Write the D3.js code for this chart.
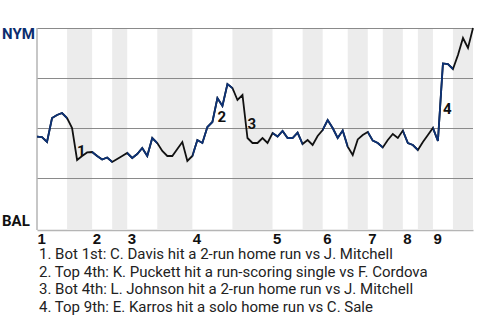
<!DOCTYPE html>
<head>
    <meta charset="utf-8">
    <script src="https://d3js.org/d3.v7.min.js"></script>
    <style type="text/css">
        body { margin: 0; background: #fff; }
        svg { display: block; font-family: Roboto, "DejaVu Sans", sans-serif; }
        .grid line { stroke: #8a8a8a; stroke-width: 1px; }
        .grid .domain { display: none; }
        .xaxis .domain { stroke: #b5b5b5; stroke-width: 1.5px; }
        .xaxis text { font-size: 15px; font-weight: bold; fill: #111; }
        .team { font-size: 15px; font-weight: bold; }
        .evt { font-size: 15px; font-weight: bold; fill: #111; }
        .note { font-size: 15px; fill: #222; }
    </style>
</head>
<body>
    <div id="chart"></div>
</body>
</html>

<script type="text/javascript">
    // plays are evenly spaced; each half-inning starts at one of these play indices
    var halfStarts = [0, 6, 11, 15, 18, 24, 31, 39, 47, 53, 57, 62, 66, 69, 73, 76, 79, 83];
    var lastPlay = 87;
    var innings = ["1", "2", "3", "4", "5", "6", "7", "8", "9"];
    var teams = ["NYM", "BAL"];
    var gridVals = [0.25, 0.5, 0.75, 1];

    // NYM win probability after each play
    var winProb = [
        0.457, 0.455, 0.43, 0.55, 0.565, 0.575, 0.55, 0.5, 0.34, 0.36,
        0.378, 0.38, 0.36, 0.3425, 0.3525, 0.33, 0.345, 0.36, 0.375, 0.35,
        0.37, 0.40, 0.36, 0.45, 0.425, 0.385, 0.36, 0.36, 0.395, 0.43,
        0.335, 0.36, 0.44, 0.425, 0.505, 0.53, 0.65, 0.61, 0.72, 0.70,
        0.64, 0.665, 0.45, 0.425, 0.425, 0.45, 0.425, 0.475, 0.457, 0.485,
        0.45, 0.45, 0.477, 0.42, 0.44, 0.415, 0.46, 0.49, 0.54, 0.50,
        0.45, 0.487, 0.407, 0.365, 0.443, 0.465, 0.48, 0.437, 0.425, 0.403,
        0.44, 0.47, 0.45, 0.487, 0.425, 0.415, 0.39, 0.43, 0.465, 0.50,
        0.435, 0.823, 0.82, 0.795, 0.865, 0.95, 0.90, 1.0
    ];

    var eventPlays = [8, 36, 42, 81];
    var eventNotes = [
        "1. Bot 1st: C. Davis hit a 2-run home run vs J. Mitchell",
        "2. Top 4th: K. Puckett hit a run-scoring single vs F. Cordova",
        "3. Bot 4th: L. Johnson hit a 2-run home run vs J. Mitchell",
        "4. Top 9th: E. Karros hit a solo home run vs C. Sale"
    ];

    var width = 480, height = 320;
    var plotLeft = 37, plotRight = 473, plotTop = 28, plotBottom = 228;

    var x = d3.scaleLinear().domain([0, lastPlay]).range([plotLeft, plotRight]);
    var y = d3.scaleLinear().domain([0, 1]).range([plotBottom, plotTop]);

    var svg = d3.select("#chart").append("svg")
        .attr("width", width)
        .attr("height", height);

    // half-inning bands
    var halves = halfStarts.map(function(s, i) {
        return { start: s, end: i < halfStarts.length - 1 ? halfStarts[i + 1] : lastPlay, top: i % 2 === 0 };
    });

    svg.append("g").selectAll("rect")
        .data(halves.filter(function(h) { return !h.top; }))
        .enter().append("rect")
        .attr("x", function(h) { return x(h.start); })
        .attr("width", function(h) { return x(h.end) - x(h.start); })
        .attr("y", plotTop)
        .attr("height", plotBottom + 1 - plotTop)
        .attr("fill", "#ececec");

    // clip for the visitors' half-innings (line drawn in blue there)
    svg.append("clipPath").attr("id", "topHalves")
        .selectAll("rect")
        .data(halves.filter(function(h) { return h.top; }))
        .enter().append("rect")
        .attr("x", function(h) { return x(h.start); })
        .attr("width", function(h) { return x(h.end) - x(h.start); })
        .attr("y", 0)
        .attr("height", height);

    // gridlines
    svg.append("g")
        .attr("class", "grid")
        .attr("transform", "translate(" + plotLeft + ",0)")
        .call(d3.axisLeft(y).tickValues(gridVals).tickSize(-(plotRight - plotLeft)).tickFormat(""));

    // left axis line
    svg.append("line")
        .attr("x1", plotLeft).attr("x2", plotLeft)
        .attr("y1", plotTop).attr("y2", plotBottom + 2)
        .attr("stroke", "#b5b5b5")
        .attr("stroke-width", 1.5);

    // bottom axis with inning numbers
    var inningStarts = halfStarts.filter(function(d, i) { return i % 2 === 0; });
    var xAxis = svg.append("g")
        .attr("class", "xaxis")
        .attr("transform", "translate(0," + (plotBottom + 2) + ")")
        .call(d3.axisBottom(x).tickValues(inningStarts)
            .tickFormat(function(d, i) { return innings[i]; })
            .tickSize(0).tickPadding(3));
    xAxis.selectAll("text").attr("text-anchor", "start");

    // team labels
    svg.append("text").attr("class", "team")
        .attr("x", 2).attr("y", 39)
        .attr("fill", "#0b2d6e")
        .text(teams[0]);
    svg.append("text").attr("class", "team")
        .attr("x", 2).attr("y", 226)
        .attr("fill", "#111")
        .text(teams[1]);

    // win probability line
    var line = d3.line()
        .x(function(d, i) { return x(i); })
        .y(function(d) { return y(d); });

    svg.append("path")
        .datum(winProb)
        .attr("d", line)
        .attr("fill", "none")
        .attr("stroke", "#111")
        .attr("stroke-width", 1.8);

    svg.append("path")
        .datum(winProb)
        .attr("d", line)
        .attr("clip-path", "url(#topHalves)")
        .attr("fill", "none")
        .attr("stroke", "#0d3276")
        .attr("stroke-width", 1.8);

    // event markers
    svg.append("g").selectAll("text")
        .data(eventPlays)
        .enter().append("text")
        .attr("class", "evt")
        .attr("x", function(p) { return x(p); })
        .attr("y", function(p) { return (y(winProb[p - 1]) + y(winProb[p])) / 2; })
        .attr("dy", "0.8em")
        .text(function(p, i) { return i + 1; });

    // notes
    svg.append("g").selectAll("text")
        .data(eventNotes)
        .enter().append("text")
        .attr("class", "note")
        .attr("x", 39)
        .attr("y", function(d, i) { return 259 + i * 17.6; })
        .text(function(d) { return d; });
</script>
